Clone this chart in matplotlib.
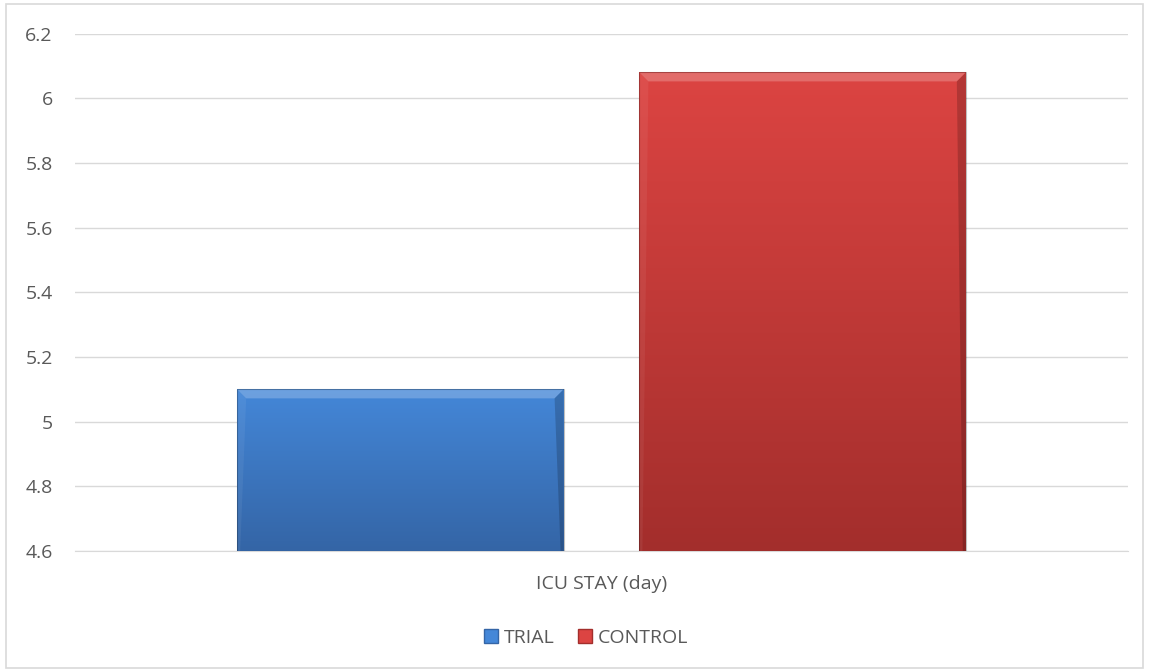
import numpy as np
import matplotlib
matplotlib.use("Agg")
import matplotlib.pyplot as plt
from matplotlib.patches import Patch, Polygon, Rectangle
from matplotlib.colors import LinearSegmentedColormap

# данные
category = "ICU STAY (day)"
groups = ["TRIAL", "CONTROL"]
values = [5.1, 6.08]
yticks = [4.6, 4.8, 5.0, 5.2, 5.4, 5.6, 5.8, 6.0, 6.2]
ytick_labels = ["4.6", "4.8", "5", "5.2", "5.4", "5.6", "5.8", "6", "6.2"]

# цвета: верх / низ градиента
grad = {
    "TRIAL": ("#4487d8", "#3465a6"),
    "CONTROL": ("#dc4442", "#a32e2c"),
}
text_color = "#595959"
grid_color = "#d9d9d9"

plt.rcParams['font.family'] = ['Open Sans', 'DejaVu Sans']

fig = plt.figure(figsize=(11.49, 6.72), dpi=100)
ax = fig.add_axes([0.0653, 0.180, 0.9164, 0.770])

# рамка вокруг всего графика
fig.patches.append(Rectangle((0.005, 0.006), 0.99, 0.988, transform=fig.transFigure,
                             fill=False, edgecolor=grid_color, linewidth=1.2))

width = 0.31
offsets = [-0.191, 0.191]
ymin, ymax = 4.6, 6.2
ax.set_xlim(-0.5, 0.5)
ax.set_ylim(ymin, ymax)

bars = []
for name, off, val in zip(groups, offsets, values):
    b = ax.bar(off, val - ymin, width=width, bottom=ymin, color="none", edgecolor="none", zorder=3)[0]
    bars.append(b)
    top_c, bot_c = grad[name]
    cmap = LinearSegmentedColormap.from_list(name, [bot_c, top_c])
    g = np.linspace(0, 1, 256).reshape(-1, 1)
    im = ax.imshow(g, cmap=cmap, aspect="auto", origin="lower",
                   extent=(off - width / 2, off + width / 2, ymin, val), zorder=3)
    im.set_clip_path(b)

# фаска (bevel) сверху и справа
fig.canvas.draw()
inv = ax.transData.inverted()
bev = 9  # px
for name, b in zip(groups, bars):
    x0, y0 = ax.transData.transform((b.get_x(), b.get_y()))
    x1, y1 = ax.transData.transform((b.get_x() + b.get_width(), b.get_y() + b.get_height()))
    top_poly = [(x0, y1), (x1, y1), (x1 - bev, y1 - bev), (x0 + bev, y1 - bev)]
    right_poly = [(x1, y1), (x1, y0), (x1 - 3, y0), (x1 - bev, y1 - bev)]
    left_poly = [(x0, y1), (x0 + bev, y1 - bev), (x0 + 3, y0), (x0, y0)]
    ax.add_patch(Polygon(inv.transform(top_poly), closed=True, facecolor="white", alpha=0.22,
                         edgecolor="none", zorder=4))
    ax.add_patch(Polygon(inv.transform(right_poly), closed=True, facecolor="black", alpha=0.18,
                         edgecolor="none", zorder=4))
    ax.add_patch(Polygon(inv.transform(left_poly), closed=True, facecolor="white", alpha=0.06,
                         edgecolor="none", zorder=4))
    ax.add_patch(Rectangle((b.get_x(), b.get_y()), b.get_width(), b.get_height(), fill=False,
                           edgecolor="black", alpha=0.25, linewidth=0.8, zorder=5))

ax.set_yticks(yticks)
ax.set_yticklabels(ytick_labels)
ax.yaxis.grid(True, color=grid_color, linewidth=1)
ax.set_axisbelow(True)
ax.tick_params(axis="y", length=0, pad=16, labelsize=14, labelcolor=text_color)
ax.set_xticks([0])
ax.set_xticklabels([category])
ax.tick_params(axis="x", length=0, pad=17, labelsize=14, labelcolor=text_color)
for s in ["top", "right", "left"]:
    ax.spines[s].set_visible(False)
ax.spines["bottom"].set_color(grid_color)

handles = [Patch(facecolor=grad[n][0], edgecolor=grad[n][1]) for n in groups]
fig.legend(handles, groups, loc="center", bbox_to_anchor=(0.510, 0.0506), ncol=2, frameon=False,
           fontsize=14, labelcolor=text_color, handlelength=0.72, handleheight=0.72,
           handletextpad=0.3, columnspacing=1.2, borderpad=0)

fig.savefig("out.png", dpi=100)
